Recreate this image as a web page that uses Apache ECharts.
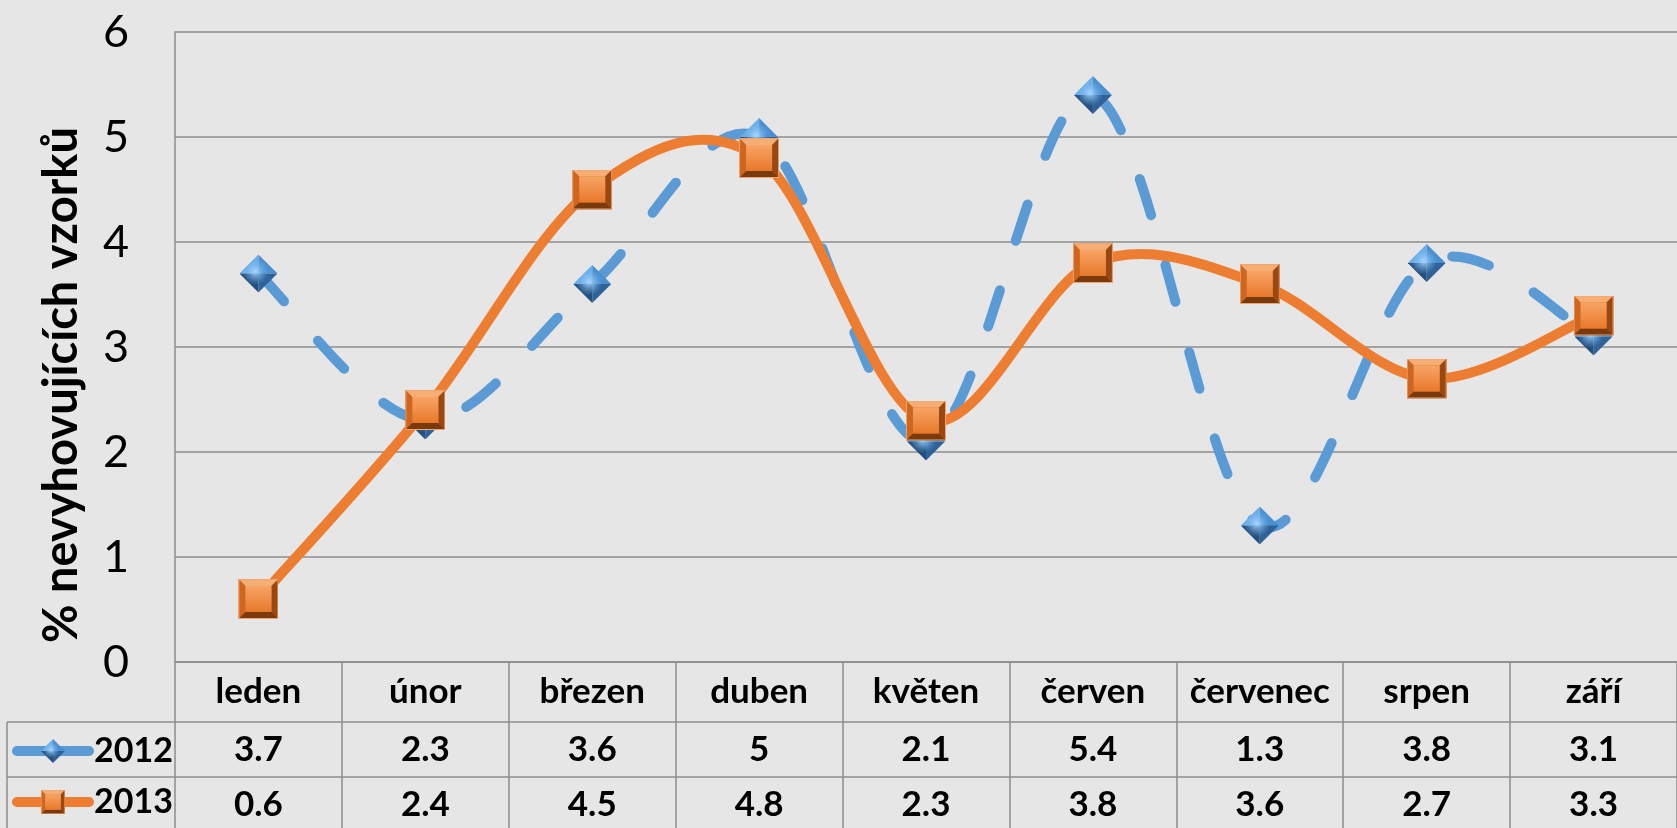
<!DOCTYPE html>
<html>
<head>
<meta charset="utf-8">
<script src="https://cdn.jsdelivr.net/npm/echarts@6/dist/echarts.min.js"></script>
<style>
  html, body { margin: 0; padding: 0; background: #e7e6e6; }
  #chart { width: 1677px; height: 828px; }
</style>
</head>
<body>
<div id="chart"></div>
<script>
var months = ["leden", "únor", "březen", "duben", "květen", "červen", "červenec", "srpen", "září"];
var values2012 = [3.7, 2.3, 3.6, 5, 2.1, 5.4, 1.3, 3.8, 3.1];
var values2013 = [0.6, 2.4, 4.5, 4.8, 2.3, 3.8, 3.6, 2.7, 3.3];
var yTicks = [0, 1, 2, 3, 4, 5, 6];

// beveled marker pictures, drawn as inline svg
var squareSvg = "<svg xmlns='http://www.w3.org/2000/svg' width='40' height='40' viewBox='0 0 40 40'>" +
    "<defs><linearGradient id='g' x1='0' y1='0' x2='0' y2='1'><stop offset='0' stop-color='#f7a465'/><stop offset='1' stop-color='#e8782a'/></linearGradient></defs>" +
    "<rect x='0' y='0' width='40' height='40' fill='#d96b20'/>" +
    "<polygon points='0,0 40,0 33,7 7,7' fill='#f6ae74'/>" +
    "<polygon points='0,0 7,7 7,33 0,40' fill='#cf661f'/>" +
    "<polygon points='40,0 40,40 33,33 33,7' fill='#9a4812'/>" +
    "<polygon points='0,40 7,33 33,33 40,40' fill='#7b3a0e'/>" +
    "<rect x='7' y='7' width='26' height='26' fill='url(#g)'/>" +
    "<rect x='0.5' y='0.5' width='39' height='39' fill='none' stroke='#f0a46e' stroke-width='1'/>" +
    "</svg>";
var diamondSvg = "<svg xmlns='http://www.w3.org/2000/svg' width='38' height='38' viewBox='0 0 38 38'>" +
    "<defs><radialGradient id='h' cx='0.42' cy='0.45' r='0.35'><stop offset='0' stop-color='#a9d6fb'/><stop offset='1' stop-color='#6aaee9' stop-opacity='0'/></radialGradient></defs>" +
    "<polygon points='0,19 19,0 19,19' fill='#6aaee9'/>" +
    "<polygon points='19,0 38,19 19,19' fill='#4a8fd0'/>" +
    "<polygon points='38,19 19,38 19,19' fill='#2f6298'/>" +
    "<polygon points='19,38 0,19 19,19' fill='#24507f'/>" +
    "<polygon points='0,19 19,0 38,19 19,38' fill='url(#h)'/>" +
    "</svg>";
var squareSymbol = "image://data:image/svg+xml;charset=utf-8," + encodeURIComponent(squareSvg);
var diamondSymbol = "image://data:image/svg+xml;charset=utf-8," + encodeURIComponent(diamondSvg);

var gridColor = "#8c8c8c";
var font = "Lato";
var blue = "#5b9bd5";
var orange = "#ed7d31";

// Excel-like smoothed line (catmull-rom through the points, via the axis scales)
function smoothCurve(values, color, dash) {
    return {
        type: "custom",
        z: 1,
        silent: true,
        data: values.map(function (v, i) { return [i, v]; }),
        renderItem: function (params, api) {
            if (params.dataIndex !== 0) return null;
            var p = values.map(function (v, i) { return api.coord([i, v]); });
            var d = "M" + p[0][0] + " " + p[0][1];
            for (var i = 0; i < p.length - 1; i++) {
                var p0 = p[Math.max(i - 1, 0)], p1 = p[i], p2 = p[i + 1], p3 = p[Math.min(i + 2, p.length - 1)];
                var c1x = p1[0] + (p2[0] - p0[0]) / 6, c1y = p1[1] + (p2[1] - p0[1]) / 6;
                var c2x = p2[0] - (p3[0] - p1[0]) / 6, c2y = p2[1] - (p3[1] - p1[1]) / 6;
                d += " C" + c1x + " " + c1y + " " + c2x + " " + c2y + " " + p2[0] + " " + p2[1];
            }
            return {
                type: "path",
                shape: { pathData: d },
                style: { fill: "none", stroke: color, lineWidth: 10, lineDash: dash, lineCap: "round", lineJoin: "round" }
            };
        }
    };
}

var chart = echarts.init(document.getElementById("chart"));

var option = {
    backgroundColor: "#e7e6e6",
    animation: false,
    textStyle: { fontFamily: font },
    grid: { left: 175, right: -8, top: 32, bottom: 166 },
    legend: {
        orient: "vertical",
        left: 12,
        top: 733,
        height: 200,
        padding: 0,
        itemWidth: 72,
        itemHeight: 30,
        itemGap: 15,
        textStyle: { fontFamily: font, fontWeight: "bold", fontSize: 34, lineHeight: 36, color: "#000" },
        data: [
            { name: "2012", lineStyle: { type: "solid", width: 10, opacity: 1, cap: "round", color: blue } },
            { name: "2013", lineStyle: { type: "solid", width: 10, opacity: 1, cap: "round", color: orange } }
        ]
    },
    xAxis: {
        type: "category",
        data: months,
        boundaryGap: true,
        axisLine: { show: true, lineStyle: { color: gridColor, width: 1.5 } },
        axisTick: { show: true, length: 170, lineStyle: { color: gridColor, width: 1.5 } },
        splitLine: { show: false },
        axisLabel: {
            margin: 0,
            interval: 0,
            formatter: function (v, i) {
                return "{c|" + v + "}\n{v|" + values2012[i] + "}\n{v|" + values2013[i] + "}";
            },
            rich: {
                c: { fontFamily: font, fontWeight: "bold", fontSize: 35, lineHeight: 60, color: "#000" },
                v: { fontFamily: font, fontWeight: "bold", fontSize: 35, lineHeight: 55, color: "#000" }
            }
        }
    },
    yAxis: {
        type: "value",
        min: yTicks[0],
        max: yTicks[yTicks.length - 1],
        interval: 1,
        name: "% nevyhovujících vzorků",
        nameLocation: "middle",
        nameRotate: 90,
        nameGap: 90,
        nameTextStyle: { fontFamily: font, fontWeight: "bold", fontSize: 47, color: "#000", padding: [0, 76, 0, 0] },
        axisLine: { show: true, lineStyle: { color: gridColor, width: 1.5 } },
        axisTick: { show: false },
        splitLine: { lineStyle: { color: gridColor, width: 1.5 } },
        axisLabel: { margin: 46, fontFamily: font, fontSize: 45, color: "#000" }
    },
    graphic: [
        { type: "line", silent: true, shape: { x1: 7, y1: 722, x2: 1677, y2: 722 }, style: { stroke: gridColor, lineWidth: 1.5 } },
        { type: "line", silent: true, shape: { x1: 7, y1: 777, x2: 1677, y2: 777 }, style: { stroke: gridColor, lineWidth: 1.5 } },
        { type: "line", silent: true, shape: { x1: 7, y1: 722, x2: 7, y2: 828 }, style: { stroke: gridColor, lineWidth: 1.5 } }
    ],
    series: [
        smoothCurve(values2012, blue, [38, 52]),
        smoothCurve(values2013, orange, null),
        {
            name: "2012",
            type: "line",
            z: 3,
            data: values2012,
            symbol: diamondSymbol,
            symbolSize: [38, 38],
            itemStyle: { color: blue },
            lineStyle: { color: blue, width: 10, opacity: 0 }
        },
        {
            name: "2013",
            type: "line",
            z: 4,
            data: values2013,
            symbol: squareSymbol,
            symbolSize: [40, 40],
            itemStyle: { color: orange },
            lineStyle: { color: orange, width: 10, opacity: 0 }
        }
    ]
};

chart.setOption(option);
</script>
</body>
</html>
